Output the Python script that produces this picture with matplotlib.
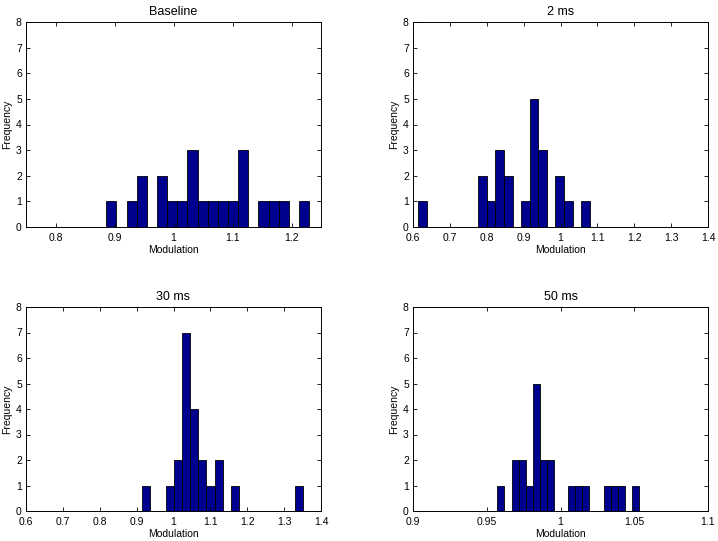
import numpy as np
import matplotlib
matplotlib.use("Agg")
import matplotlib.pyplot as plt
from matplotlib.ticker import FuncFormatter

plt.rcParams['font.family'] = ['Liberation Sans', 'DejaVu Sans']

titles = ["Baseline", "2 ms", "30 ms", "50 ms"]

# histogram ranges (min, max of data) and counts in 20 bins
base_range = (0.886, 1.230)
base_counts = [1, 0, 1, 2, 0, 2, 1, 1, 3, 1, 1, 1, 1, 3, 0, 1, 1, 1, 0, 1]

ms2_range = (0.6136, 1.0796)
ms2_counts = [1, 0, 0, 0, 0, 0, 0, 2, 1, 3, 2, 0, 1, 5, 3, 0, 2, 1, 0, 1]

ms30_range = (0.9158, 1.350)
ms30_counts = [1, 0, 0, 1, 2, 7, 4, 2, 1, 2, 0, 1, 0, 0, 0, 0, 0, 0, 0, 1]

ms50_range = (0.9572, 1.0532)
ms50_counts = [1, 0, 2, 2, 1, 5, 2, 2, 0, 0, 1, 1, 1, 0, 0, 1, 1, 1, 0, 1]

xlims = [(0.75, 1.25), (0.6, 1.4), (0.6, 1.4), (0.9, 1.1)]
xticks = [[0.8, 0.9, 1.0, 1.1, 1.2],
          [0.6, 0.7, 0.8, 0.9, 1.0, 1.1, 1.2, 1.3, 1.4],
          [0.6, 0.7, 0.8, 0.9, 1.0, 1.1, 1.2, 1.3, 1.4],
          [0.9, 0.95, 1.0, 1.05, 1.1]]

ranges = [base_range, ms2_range, ms30_range, ms50_range]
counts = [base_counts, ms2_counts, ms30_counts, ms50_counts]

W, H = 718, 541
fig = plt.figure(figsize=(W / 100, H / 100), dpi=100)
boxes = [(26, 22, 321, 227), (413, 22, 708, 227),
         (26, 307, 321, 511), (413, 307, 708, 511)]

for i in range(4):
    l, t, r, b = boxes[i]
    ax = fig.add_axes([l / W, 1 - b / H, (r - l) / W, (b - t) / H])
    lo, hi = ranges[i]
    edges = np.linspace(lo, hi, len(counts[i]) + 1)
    ax.bar(edges[:-1], counts[i], width=np.diff(edges), align='edge',
           color=(0, 0, 0.5625), edgecolor='black', linewidth=0.6)
    ax.set_xlim(*xlims[i])
    ax.set_ylim(0, 8)
    ax.set_xticks(xticks[i])
    ax.set_yticks(range(0, 9))
    ax.xaxis.set_major_formatter(FuncFormatter(lambda v, p: "%g" % round(v, 4)))
    ax.tick_params(direction='in', top=True, right=True, length=3,
                   width=0.6, labelsize=7.5)
    ax.tick_params(axis='x', pad=4.5)
    ax.tick_params(axis='y', pad=3)
    for s in ax.spines.values():
        s.set_linewidth(0.7)
    ax.set_title(titles[i], fontsize=9, pad=5)
    ax.set_xlabel("Modulation", fontsize=7.5, labelpad=1)
    ax.set_ylabel("Frequency", fontsize=7.5, labelpad=3)

fig.savefig("out.png", dpi=100)
